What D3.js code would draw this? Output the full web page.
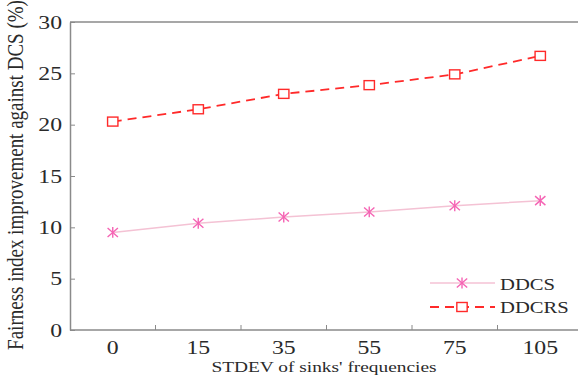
<!DOCTYPE html>
<html>
<head>
<meta charset="utf-8">
<script src="https://cdn.jsdelivr.net/npm/d3@7"></script>
<style>
  html, body { margin: 0; padding: 0; background: #fff; }
  svg { display: block; }
</style>
</head>
<body>
<svg id="chart" width="578" height="386" font-family="'Liberation Serif', 'DejaVu Serif', serif"></svg>
<script>
// STDEV categories on the x axis
const categories = ["0", "15", "35", "55", "75", "105"];
// Fairness index improvement against DCS (%)
const ddcs  = [9.5, 10.4, 11.0, 11.5, 12.1, 12.6];
const ddcrs = [20.3, 21.5, 23.0, 23.85, 24.9, 26.7];
const yTicks = [0, 5, 10, 15, 20, 25, 30];

const serif = "'Liberation Serif', 'DejaVu Serif', serif";
const textColor = "#2a2a2a";
const widen = 1.25; // glyphs are set slightly wide

const svg = d3.select("#chart");
const plotLeft = 70, plotRight = 583, plotTop = 22, plotBottom = 330;

const x = d3.scaleBand().domain(categories).range([plotLeft, plotRight]);
const y = d3.scaleLinear().domain([0, 30]).range([plotBottom, plotTop]);
const cx = c => x(c) + x.bandwidth() / 2;

const axisColor = "#8a8a8a";

// wide text placed at (px, py)
function label(g, px, py, str, size, anchor) {
  return g.append("text")
    .attr("transform", `translate(${px},${py}) scale(${widen},1)`)
    .attr("text-anchor", anchor)
    .attr("font-family", serif)
    .attr("font-size", size)
    .attr("fill", textColor)
    .text(str);
}

// top frame line
svg.append("line")
  .attr("x1", plotLeft).attr("x2", plotRight).attr("y1", plotTop).attr("y2", plotTop)
  .attr("stroke", axisColor).attr("stroke-width", 1.5);

// x axis: ticks sit on the category boundaries, pointing inward
const xg = svg.append("g").attr("transform", `translate(0,${plotBottom})`);
xg.append("line").attr("x1", plotLeft).attr("x2", plotRight)
  .attr("stroke", axisColor).attr("stroke-width", 1.5);
xg.selectAll("line.tk").data(categories.slice(1)).join("line")
  .attr("class", "tk")
  .attr("x1", d => x(d)).attr("x2", d => x(d))
  .attr("y1", 0).attr("y2", -5)
  .attr("stroke", axisColor).attr("stroke-width", 1);
categories.forEach(c => label(xg, cx(c), 24, c, 19, "middle"));

// y axis
const yAxis = d3.axisLeft(y).tickValues(yTicks).tickSizeInner(-5).tickSizeOuter(0).tickPadding(8);
const yg = svg.append("g").attr("transform", `translate(${plotLeft},0)`).call(yAxis)
  .attr("font-family", serif);
yg.select(".domain").attr("stroke", axisColor).attr("stroke-width", 1.5);
yg.selectAll(".tick line").attr("stroke", axisColor);
yg.selectAll(".tick text")
  .attr("x", null)
  .attr("transform", `translate(-8,0) scale(${widen},1)`)
  .attr("font-size", 19)
  .attr("font-family", serif)
  .attr("fill", textColor);

// axis titles
label(svg, 324, 372, "STDEV of sinks' frequencies", 15.5, "middle");

svg.append("text")
  .attr("transform", `translate(23,175) scale(${widen},1) rotate(-90)`)
  .attr("text-anchor", "middle")
  .attr("font-family", serif)
  .attr("font-size", 19)
  .attr("fill", textColor)
  .text("Fairness index improvement against DCS (%)");

// series
const redColor = "#ff2a2a";
const pinkLine = "#f4c2d4";
const pinkMark = "#f564b4";

const line = d3.line().x((d, i) => cx(categories[i])).y(d => y(d));

svg.append("path").datum(ddcs)
  .attr("d", line).attr("fill", "none")
  .attr("stroke", pinkLine).attr("stroke-width", 1.5);

svg.append("path").datum(ddcrs)
  .attr("d", line).attr("fill", "none")
  .attr("stroke", redColor).attr("stroke-width", 1.8)
  .attr("stroke-dasharray", "9,6");

function star(g, px, py, r) {
  const s = g.append("g").attr("transform", `translate(${px},${py})`)
    .attr("stroke", pinkMark).attr("stroke-width", 1.4);
  s.append("line").attr("x1", -r * 1.15).attr("y1", -r).attr("x2", r * 1.15).attr("y2", r);
  s.append("line").attr("x1", -r * 1.15).attr("y1", r).attr("x2", r * 1.15).attr("y2", -r);
  s.append("line").attr("x1", 0).attr("y1", -r * 1.2).attr("x2", 0).attr("y2", r * 1.2);
}
function square(g, px, py, h) {
  g.append("rect")
    .attr("x", px - h * 1.15).attr("y", py - h).attr("width", 2.3 * h).attr("height", 2 * h)
    .attr("fill", "#fff").attr("stroke", redColor).attr("stroke-width", 1.4);
}

const marks = svg.append("g");
ddcs.forEach((v, i) => star(marks, cx(categories[i]), y(v), 4.5));
ddcrs.forEach((v, i) => square(marks, cx(categories[i]), y(v), 4.5));

// legend
const lg = svg.append("g");
lg.append("line").attr("x1", 430).attr("x2", 495).attr("y1", 283).attr("y2", 283)
  .attr("stroke", pinkLine).attr("stroke-width", 1.5);
star(lg, 462, 283, 4.5);
lg.append("line").attr("x1", 430).attr("x2", 495).attr("y1", 307).attr("y2", 307)
  .attr("stroke", redColor).attr("stroke-width", 1.8).attr("stroke-dasharray", "9,6");
square(lg, 462, 307, 4.5);
label(lg, 500, 290, "DDCS", 16.5, "start");
label(lg, 500, 313, "DDCRS", 16.5, "start");
</script>
</body>
</html>
